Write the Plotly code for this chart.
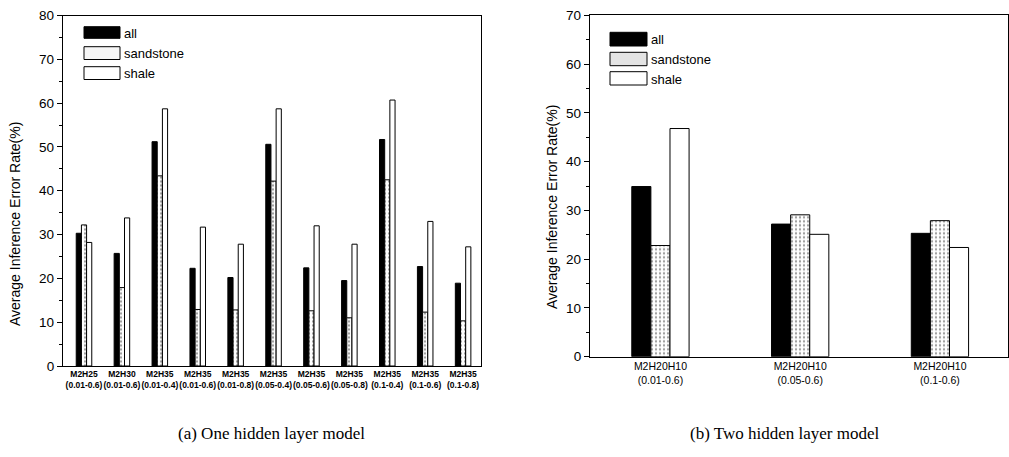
import plotly.graph_objects as go

# ---------------- data ----------------
series_names = ["all", "sandstone", "shale"]

left_models = ["M2H25", "M2H30", "M2H35", "M2H35", "M2H35", "M2H35",
               "M2H35", "M2H35", "M2H35", "M2H35", "M2H35"]
left_ranges = ["(0.01-0.6)", "(0.01-0.6)", "(0.01-0.4)", "(0.01-0.6)", "(0.01-0.8)",
               "(0.05-0.4)", "(0.05-0.6)", "(0.05-0.8)", "(0.1-0.4)", "(0.1-0.6)", "(0.1-0.8)"]
left_all = [30.3, 25.7, 51.2, 22.3, 20.2, 50.6, 22.4, 19.5, 51.7, 22.7, 18.9]
left_sandstone = [32.2, 17.9, 43.4, 12.9, 12.8, 42.2, 12.6, 11.0, 42.5, 12.3, 10.3]
left_shale = [28.2, 33.8, 58.7, 31.7, 27.8, 58.7, 32.0, 27.8, 60.7, 33.0, 27.2]

right_models = ["M2H20H10", "M2H20H10", "M2H20H10"]
right_ranges = ["(0.01-0.6)", "(0.05-0.6)", "(0.1-0.6)"]
right_all = [34.9, 27.2, 25.3]
right_sandstone = [22.8, 29.1, 27.9]
right_shale = [46.8, 25.1, 22.4]

y_title = "Average Inference Error Rate(%)"
captions = ["(a) One hidden layer model", "(b) Two hidden layer model"]

# ---------------- figure ----------------
W, H = 1009, 457
SANS = "Liberation Sans, Arial, sans-serif"
SERIF = "Liberation Serif, Times New Roman, serif"

left_x = [f"{m}<br>{r}" for m, r in zip(left_models, left_ranges)]
right_x = [f"{m}<br>{r}" for m, r in zip(right_models, right_ranges)]


def px(x):
    return x / W


def py(y):
    return 1 - y / H


styles = {
    "all": dict(color="black", line=dict(color="black", width=1)),
    "sandstone": dict(color="white", line=dict(color="black", width=1),
                      pattern=dict(shape=".", fgcolor="#9a9a9a", bgcolor="white",
                                   size=4, solidity=0.25)),
    "shale": dict(color="white", line=dict(color="black", width=1)),
}

fig = go.Figure()

for name, vals in zip(series_names, [left_all, left_sandstone, left_shale]):
    fig.add_trace(go.Bar(x=left_x, y=vals, name=name, marker=styles[name],
                         xaxis="x", yaxis="y", showlegend=False))
for name, vals in zip(series_names, [right_all, right_sandstone, right_shale]):
    fig.add_trace(go.Bar(x=right_x, y=vals, name=name, marker=styles[name],
                         xaxis="x2", yaxis="y2", showlegend=False))

axis_common = dict(showline=True, linecolor="black", linewidth=1.3, mirror=True,
                   showgrid=False, zeroline=False, automargin=False)

fig.update_layout(
    template="none",
    width=W, height=H,
    margin=dict(l=0, r=0, t=0, b=0, autoexpand=False),
    paper_bgcolor="white", plot_bgcolor="white",
    barmode="group",
    bargap=0.59, bargroupgap=0,
    showlegend=False,
    font=dict(family=SANS, color="black"),
    xaxis=dict(domain=[px(63), px(481.3)], anchor="y", type="category",
               range=[-0.554, 10.48], ticks="", tickangle=0,
               tickfont=dict(family=SANS, size=8.5, color="black", weight="bold"),
               **axis_common),
    yaxis=dict(domain=[py(366), py(15.5)], anchor="x", range=[0, 80], dtick=10,
               ticks="outside", ticklen=5, tickwidth=1.2, tickcolor="black",
               minor=dict(dtick=5, ticks="outside", ticklen=3, tickcolor="black", showgrid=False),
               tickfont=dict(family=SANS, size=13.5, color="black"),
               **axis_common),
    xaxis2=dict(domain=[px(590), px(1008)], anchor="y2", type="category",
                range=[-0.504, 2.487], ticks="", tickangle=0,
                tickfont=dict(family=SANS, size=10.5, color="black"),
                **axis_common),
    yaxis2=dict(domain=[py(356.7), py(15.4)], anchor="x2", range=[0, 70], dtick=10,
                ticks="outside", ticklen=5, tickwidth=1.2, tickcolor="black",
                minor=dict(dtick=5, ticks="outside", ticklen=3, tickcolor="black", showgrid=False),
                tickfont=dict(family=SANS, size=13.5, color="black"),
                **axis_common),
)

# ---------------- manual legends ----------------
legend_specs = [
    (84, 120, [(26.7, 38.3, 33), (46.7, 59.5, 53), (66.7, 79.5, 73)]),
    (610, 647, [(32.3, 46, 39.5), (52.3, 65.7, 59.5), (71.7, 85, 79)]),
]
fills = {"all": "black", "sandstone": "#e4e4e4", "shale": "white"}
shapes = []
annotations = []
for li, (x0, x1, rows) in enumerate(legend_specs):
    for name, (y0, y1, ty) in zip(series_names, rows):
        fill = fills[name]
        if li == 0 and name == "sandstone":
            fill = "#f6f6f6"
        shapes.append(dict(type="rect", xref="paper", yref="paper",
                           x0=px(x0), x1=px(x1), y0=py(y1), y1=py(y0),
                           fillcolor=fill, line=dict(color="black", width=1)))
        annotations.append(dict(xref="paper", yref="paper", x=px(x1 + 2), y=py(ty),
                                text=name, showarrow=False, xanchor="left", yanchor="middle",
                                font=dict(family=SANS, size=13, color="black")))

# y-axis titles
annotations.append(dict(xref="paper", yref="paper", x=px(15), y=py(224), text=y_title,
                        textangle=-90, showarrow=False, xanchor="center", yanchor="middle",
                        font=dict(family=SANS, size=14, color="black")))
annotations.append(dict(xref="paper", yref="paper", x=px(552), y=py(207), text=y_title,
                        textangle=-90, showarrow=False, xanchor="center", yanchor="middle",
                        font=dict(family=SANS, size=14, color="black")))

# captions
annotations.append(dict(xref="paper", yref="paper", x=px(271), y=py(433), text=captions[0],
                        showarrow=False, xanchor="center", yanchor="middle",
                        font=dict(family=SERIF, size=17, color="black")))
annotations.append(dict(xref="paper", yref="paper", x=px(785), y=py(433), text=captions[1],
                        showarrow=False, xanchor="center", yanchor="middle",
                        font=dict(family=SERIF, size=17, color="black")))

fig.update_layout(shapes=shapes, annotations=annotations)

fig.write_html("out.html",
               config={"displayModeBar": False},
               post_script="document.body.style.margin='0';document.body.style.padding='0';")
